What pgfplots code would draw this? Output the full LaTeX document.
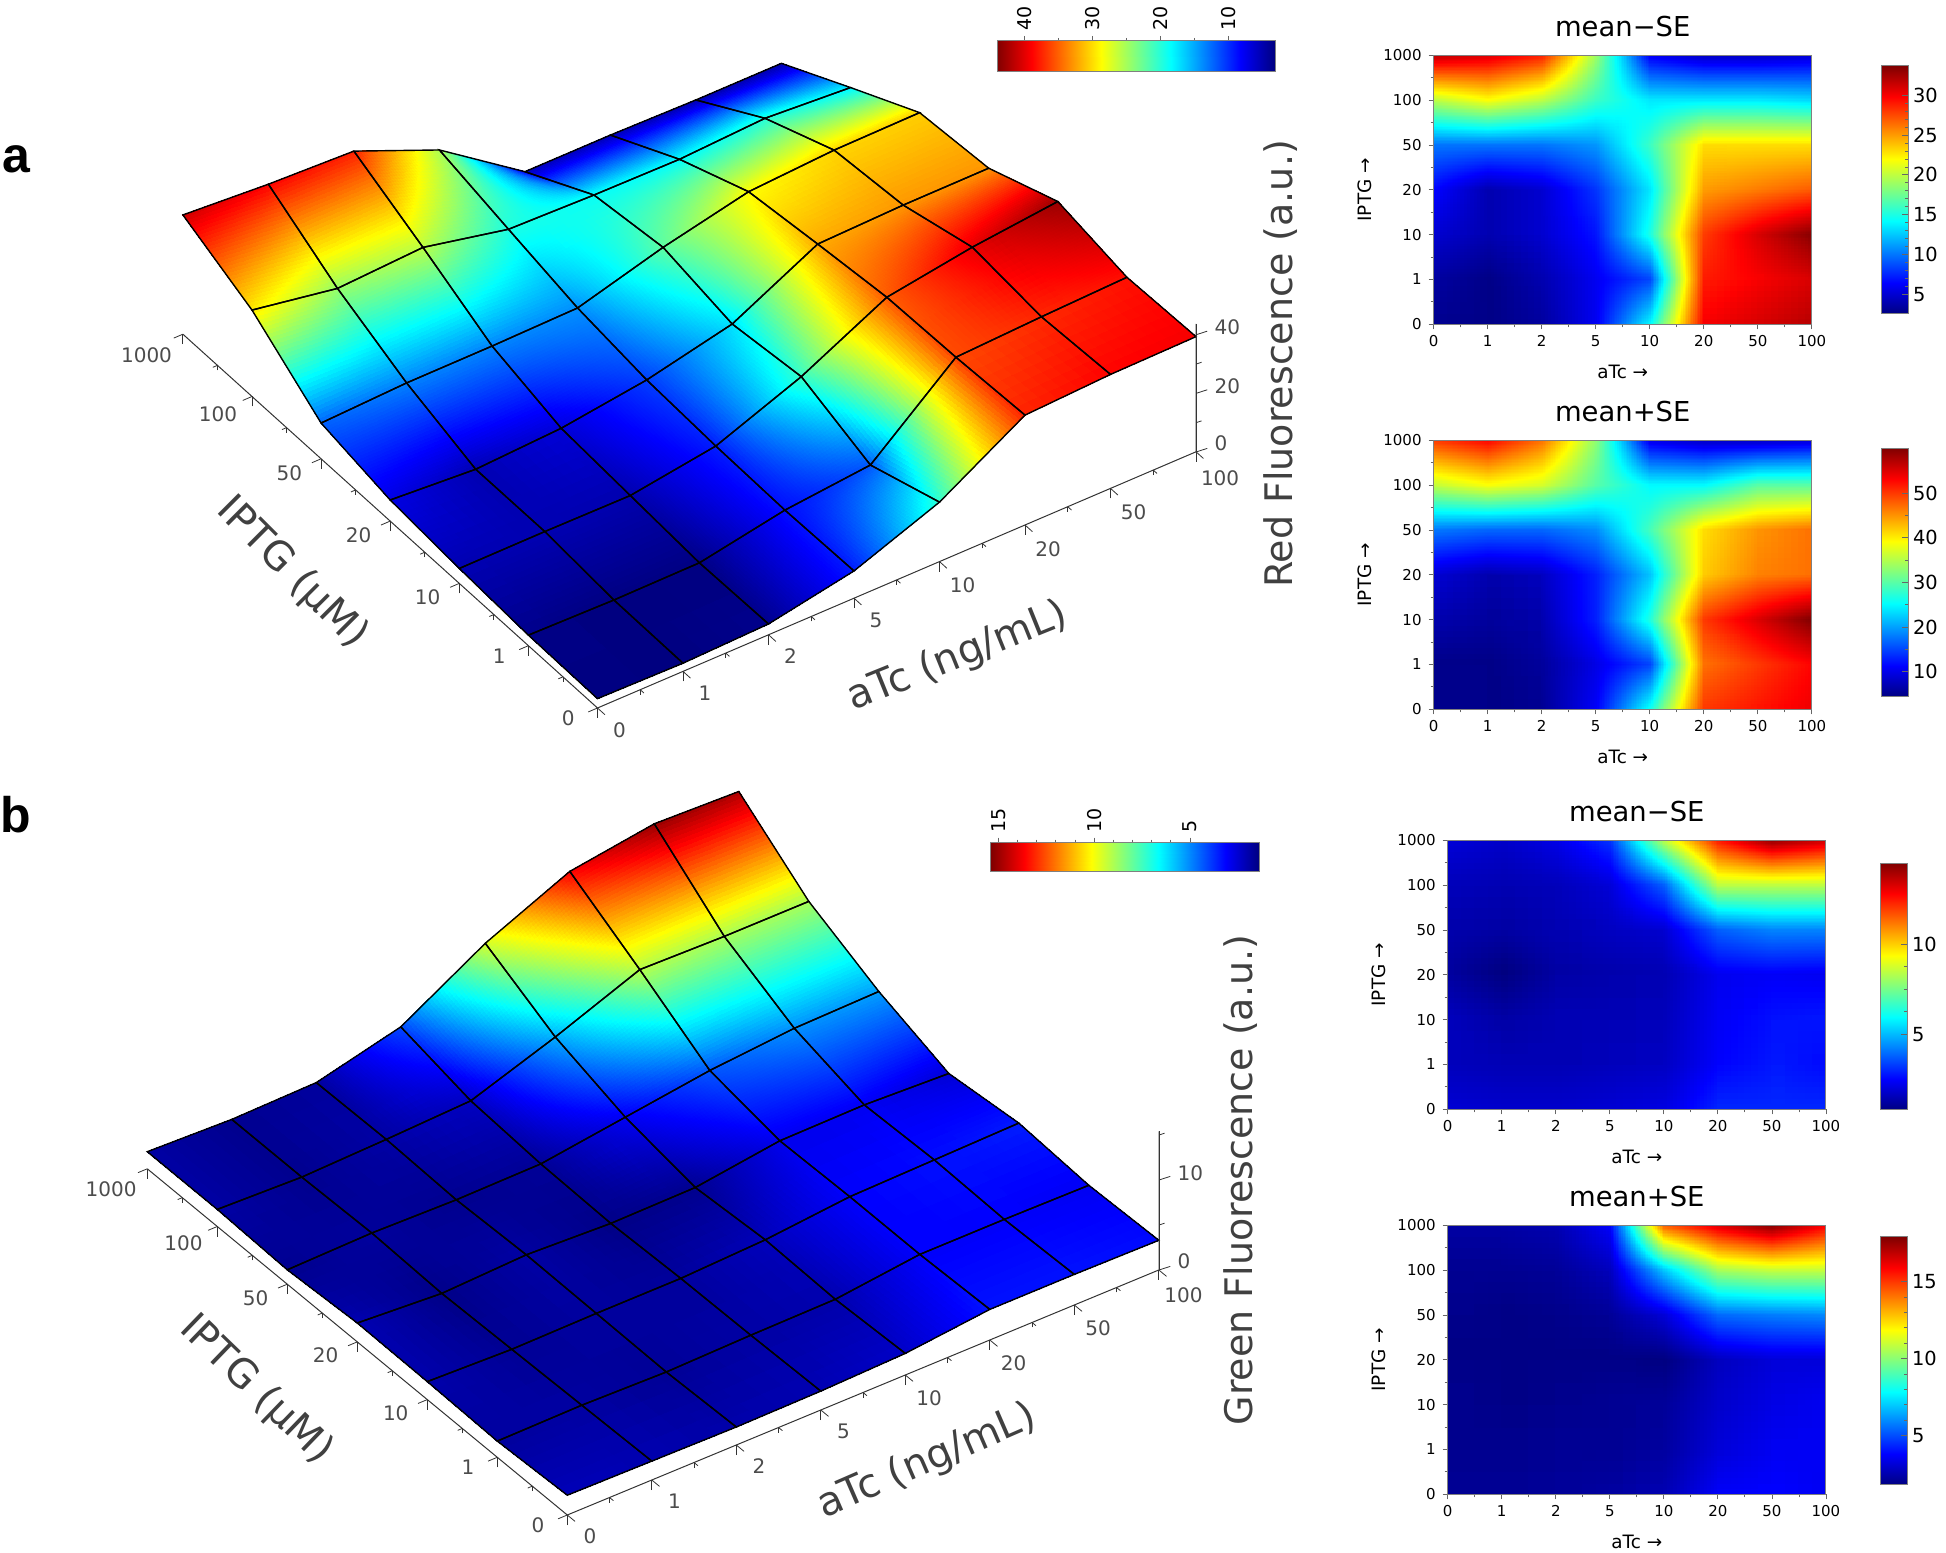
\documentclass[border=0pt]{standalone}
\usepackage{fontspec}
\setmainfont{DejaVu Sans}
\newfontfamily\panelfont{Liberation Sans}
\usepackage{pgfplots}
\usepackage{pgfplotstable}
\pgfplotsset{compat=1.18}
\usepgfplotslibrary{patchplots}

% all grids: i = aTc index (0,1,2,5,10,20,50,100), j = IPTG index (0,1,10,20,50,100,1000)
\pgfplotstableread[row sep=\\]{
i j v\\
0 0 3.2\\ 1 0 2.8\\ 2 0 3.7\\ 3 0 9.3\\ 4 0 20.3\\ 5 0 37.5\\ 6 0 38.9\\ 7 0 39.3\\
0 1 3.6\\ 1 1 3.1\\ 2 1 3.3\\ 3 1 8.8\\ 4 1 11.7\\ 5 1 36.0\\ 6 1 37.3\\ 7 1 38.3\\
0 2 5.1\\ 1 2 5.2\\ 2 2 5.0\\ 3 2 9.4\\ 4 2 20.6\\ 5 2 35.2\\ 6 2 39.8\\ 7 2 42.9\\
0 3 7.2\\ 1 3 5.2\\ 2 3 6.7\\ 3 3 10.7\\ 4 3 17.3\\ 5 3 32.1\\ 6 3 32.9\\ 7 3 33.0\\
0 4 12.2\\ 1 4 13.4\\ 2 4 13.5\\ 3 4 14.0\\ 4 4 22.2\\ 5 4 28.7\\ 6 4 30.4\\ 7 4 30.7\\
0 5 29.5\\ 1 5 24.4\\ 2 5 25.9\\ 3 5 19.6\\ 4 5 18.8\\ 5 5 18.5\\ 6 5 20.0\\ 7 5 18.0\\
0 6 40.7\\ 1 6 38.7\\ 2 6 37.5\\ 3 6 25.4\\ 4 6 5.5\\ 5 6 5.5\\ 6 6 5.0\\ 7 6 5.0\\
}\redsurf

\pgfplotstableread[row sep=\\]{
i j v\\
0 0 2.2\\ 1 0 2.1\\ 2 0 2.0\\ 3 0 2.1\\ 4 0 2.4\\ 5 0 3.4\\ 6 0 3.4\\ 7 0 3.3\\
0 1 1.8\\ 1 1 1.9\\ 2 1 1.7\\ 3 1 1.9\\ 4 1 2.0\\ 5 1 3.1\\ 6 1 3.1\\ 7 1 3.0\\
0 2 2.0\\ 1 2 1.7\\ 2 2 1.8\\ 3 2 1.8\\ 4 2 2.2\\ 5 2 3.1\\ 6 2 3.3\\ 7 2 3.5\\
0 3 2.1\\ 1 3 1.5\\ 2 3 1.9\\ 3 3 1.5\\ 4 3 1.6\\ 5 3 2.9\\ 6 3 3.0\\ 7 3 2.6\\
0 4 1.6\\ 1 4 1.8\\ 2 4 1.6\\ 3 4 1.7\\ 4 4 3.0\\ 5 4 4.3\\ 6 4 5.1\\ 7 4 5.3\\
0 5 1.9\\ 1 5 1.6\\ 2 5 1.9\\ 3 5 2.3\\ 4 5 5.5\\ 5 5 9.1\\ 6 5 8.9\\ 7 5 8.9\\
0 6 1.9\\ 1 6 1.6\\ 2 6 1.8\\ 3 6 4.1\\ 4 6 9.5\\ 5 6 13.6\\ 6 6 15.0\\ 7 6 14.7\\
}\greensurf

\pgfplotstableread[row sep=\\]{
i j v\\
0 0 3\\ 1 0 2.7\\ 2 0 3.5\\ 3 0 6\\ 4 0 14\\ 5 0 30\\ 6 0 31\\ 7 0 32\\
0 1 3.5\\ 1 1 2.7\\ 2 1 4\\ 3 1 6\\ 4 1 8.5\\ 5 1 29\\ 6 1 30\\ 7 1 31\\
0 2 5\\ 1 2 4\\ 2 2 5\\ 3 2 7\\ 4 2 15\\ 5 2 28\\ 6 2 31\\ 7 2 33.5\\
0 3 6.5\\ 1 3 4\\ 2 3 5\\ 3 3 8\\ 4 3 13.5\\ 5 3 25\\ 6 3 26\\ 7 3 27\\
0 4 10\\ 1 4 10\\ 2 4 10\\ 3 4 11\\ 4 4 16\\ 5 4 23\\ 6 4 23\\ 7 4 23\\
0 5 20\\ 1 5 22\\ 2 5 20\\ 3 5 16\\ 4 5 13.5\\ 5 5 13.5\\ 6 5 13.5\\ 7 5 13\\
0 6 32\\ 1 6 31\\ 2 6 29\\ 3 6 19\\ 4 6 6\\ 5 6 4.5\\ 6 6 4.5\\ 7 6 5\\
}\redlow

\pgfplotstableread[row sep=\\]{
i j v\\
0 0 5\\ 1 0 4.8\\ 2 0 5.5\\ 3 0 11\\ 4 0 26\\ 5 0 50\\ 6 0 52\\ 7 0 54\\
0 1 5\\ 1 1 4.8\\ 2 1 6\\ 3 1 10\\ 4 1 15\\ 5 1 47\\ 6 1 50\\ 7 1 53\\
0 2 7\\ 1 2 6\\ 2 2 7\\ 3 2 13\\ 4 2 27\\ 5 2 50\\ 6 2 55\\ 7 2 60\\
0 3 9\\ 1 3 7\\ 2 3 8\\ 3 3 13\\ 4 3 22\\ 5 3 42\\ 6 3 46\\ 7 3 47\\
0 4 18\\ 1 4 17\\ 2 4 17\\ 3 4 19\\ 4 4 29\\ 5 4 41\\ 6 4 45\\ 7 4 47\\
0 5 36\\ 1 5 39\\ 2 5 37\\ 3 5 30\\ 4 5 25\\ 5 5 25\\ 6 5 30\\ 7 5 30\\
0 6 50\\ 1 6 53\\ 2 6 47\\ 3 6 33\\ 4 6 10\\ 5 6 8\\ 6 6 8\\ 7 6 9\\
}\redhigh

\pgfplotstableread[row sep=\\]{
i j v\\
0 0 1.9\\ 1 0 1.8\\ 2 0 1.8\\ 3 0 1.9\\ 4 0 2.1\\ 5 0 3\\ 6 0 3\\ 7 0 3\\
0 1 1.6\\ 1 1 1.5\\ 2 1 1.5\\ 3 1 1.6\\ 4 1 1.7\\ 5 1 2.5\\ 6 1 2.8\\ 7 1 2.6\\
0 2 1.6\\ 1 2 1.3\\ 2 2 1.5\\ 3 2 1.5\\ 4 2 1.6\\ 5 2 2.4\\ 6 2 2.7\\ 7 2 2.8\\
0 3 1.2\\ 1 3 0.8\\ 2 3 1.3\\ 3 3 1.4\\ 4 3 1.5\\ 5 3 2.3\\ 6 3 2.4\\ 7 3 2.3\\
0 4 1.4\\ 1 4 1.3\\ 2 4 1.5\\ 3 4 1.7\\ 4 4 1.9\\ 5 4 3.8\\ 6 4 4.3\\ 7 4 4.3\\
0 5 1.6\\ 1 5 1.5\\ 2 5 1.6\\ 3 5 2\\ 4 5 3.8\\ 5 5 8.5\\ 6 5 8.5\\ 7 5 8.5\\
0 6 2\\ 1 6 1.8\\ 2 6 2.2\\ 3 6 3.2\\ 4 6 8.5\\ 5 6 12.5\\ 6 6 14.3\\ 7 6 13.5\\
}\greenlow

\pgfplotstableread[row sep=\\]{
i j v\\
0 0 2.1\\ 1 0 2.1\\ 2 0 2.2\\ 3 0 2.3\\ 4 0 2.6\\ 5 0 3.7\\ 6 0 3.8\\ 7 0 3.6\\
0 1 2\\ 1 1 2\\ 2 1 2.1\\ 3 1 2.1\\ 4 1 2.3\\ 5 1 3.2\\ 6 1 3.6\\ 7 1 3.6\\
0 2 2\\ 1 2 1.9\\ 2 2 2\\ 3 2 2.1\\ 4 2 2.2\\ 5 2 3\\ 6 2 3.4\\ 7 2 3.6\\
0 3 1.9\\ 1 3 1.9\\ 2 3 1.9\\ 3 3 1.9\\ 4 3 1.8\\ 5 3 2.8\\ 6 3 3.2\\ 7 3 3.2\\
0 4 2\\ 1 4 1.9\\ 2 4 2\\ 3 4 2.2\\ 4 4 3.2\\ 5 4 5.5\\ 6 4 5.8\\ 7 4 6\\
0 5 2.1\\ 1 5 2.1\\ 2 5 2.2\\ 3 5 2.8\\ 4 5 7\\ 5 5 10.5\\ 6 5 11\\ 7 5 11\\
0 6 2.4\\ 1 6 2.4\\ 2 6 2.6\\ 3 6 3.8\\ 4 6 14.5\\ 5 6 16.5\\ 6 6 17.9\\ 7 6 16\\
}\greenhigh

\pgfplotsset{
  /pgf/number format/assume math mode=true,
  colormap={allblack}{color(0cm)=(black); color(1cm)=(black)},
  colormap/jet,
  grid3d/.style={
    anchor=origin, clip=false,
    xmin=0, xmax=7, ymin=0, ymax=6,
    axis lines*=left,
    z axis line style={draw=none}, ztick=\empty,
    xtick={0,...,7}, ytick={0,...,6},
    xticklabels={0,1,2,5,10,20,50,100},
    yticklabels={0,1,10,20,50,100,1000},
    minor tick num=1,
    tick align=outside,
    major tick length=5pt, minor tick length=2.5pt,
    every tick/.style={black!80,line width=0.4pt},
    axis line style={black!80,line width=0.5pt},
    tick label style={font=\fontsize{10}{12}\selectfont,text=black!70},
    xticklabel style={xshift=3.5pt,yshift=1pt},
    yticklabel style={xshift=-4.5pt,yshift=5pt},
  },
  zaxis3d/.style={
    anchor=origin, clip=false,
    xmin=0, xmax=1, ymin=0, ymax=1,
    x={(-6pt,6pt)}, y={(-14pt,-4.5pt)},
    axis x line=none, axis y line=none, axis z line*=right,
    xtick=\empty, ytick=\empty,
    minor z tick num=1,
    tick align=outside,
    major tick length=5pt, minor tick length=3pt,
    every tick/.style={black!80,line width=0.4pt},
    axis line style={black!80,line width=0.5pt},
    tick label style={font=\fontsize{10}{12}\selectfont,text=black!70},
    zticklabel style={xshift=1pt,yshift=4.5pt},
  },
  heat/.style={
    anchor=south west, scale only axis,
    width=189.1pt, height=134.5pt,
    xmin=0, xmax=7, ymin=0, ymax=6,
    xtick={0,...,7}, ytick={0,...,6},
    xticklabels={0,1,2,5,10,20,50,100},
    yticklabels={0,1,10,20,50,100,1000},
    minor tick num=1,
    tick align=outside, tick pos=left,
    major tick length=2.5pt, minor tick length=1.5pt,
    every tick/.style={black!60,line width=0.4pt},
    axis line style={black!50,line width=0.5pt},
    tick label style={font=\fontsize{7.5}{9}\selectfont},
    xticklabel style={yshift=0.5pt},
    axis on top,
    xlabel={aTc →}, ylabel={IPTG →},
    label style={font=\fontsize{9.2}{11}\selectfont},
    xlabel style={at={(axis description cs:0.5,0)},anchor=center,yshift=-24pt},
    ylabel style={at={(axis description cs:0,0.5)},anchor=center,yshift=34.5pt},
    title style={at={(axis description cs:0.5,1)},anchor=south,yshift=-0.5pt,font=\fontsize{13.7}{16}\selectfont},
  },
  cbar/.style={
    anchor=south west, scale only axis,
    width=13.5pt,
    xmin=0, xmax=1, xtick=\empty,
    ytick pos=right, yticklabel pos=right,
    tick align=inside,
    major tick length=3pt, minor tick length=1.5pt,
    every tick/.style={black!60,line width=0.4pt},
    axis line style={black!50,line width=0.5pt},
    tick label style={font=\fontsize{9.7}{11}\selectfont},
    yticklabel style={xshift=-1pt},
    axis on top,
  },
  hbar/.style={
    anchor=south west, scale only axis,
    x dir=reverse,
    ymin=0, ymax=1, ytick=\empty,
    xtick pos=top, xticklabel pos=top,
    tick align=outside,
    major tick length=2.5pt, minor tick length=1.5pt,
    every tick/.style={black!60,line width=0.4pt},
    axis line style={black!50,line width=0.5pt},
    xticklabel style={rotate=90,anchor=west,font=\fontsize{9.5}{11}\selectfont,xshift=-1pt},
    axis on top,
  },
  gridsurf/.style={surf, shader=interp, patch type=bilinear, mesh/rows=7, mesh/cols=8},
  ztickline/.style={black!80, line width=0.4pt, no marks, forget plot},
}

\begin{document}
\begin{tikzpicture}
\path[use as bounding box] (0pt,0pt) rectangle (973pt,776pt);

% panel a, surface
\begin{axis}[grid3d, at={(298.75pt,422pt)},
  x={(42.75pt,18.3pt)}, y={(-34.55pt,31.15pt)}, z={(0pt,1.465pt)},
  zmin=0, zmax=40, point meta min=3.2, point meta max=44]
\addplot3[gridsurf] table[x=i,y=j,z=v]{\redsurf};
\addplot3[mesh, colormap name=allblack, line width=0.7pt, mesh/rows=7, mesh/cols=8] table[x=i,y=j,z=v]{\redsurf};
\end{axis}
\begin{axis}[zaxis3d, at={(598pt,550pt)}, z={(0pt,1.465pt)},
  zmin=0, zmax=43.7, ztick={0,20,40}]
\addplot3[ztickline] coordinates {(0,-0.4,0) (0,0,0) (0,0,10) (0,-0.2,10) (0,0,10) (0,0,20) (0,-0.4,20) (0,0,20) (0,0,30) (0,-0.2,30) (0,0,30) (0,0,40) (0,-0.4,40) (0,0,40) (0,0,43.7)};
\end{axis}
\node[rotate=-45, font=\fontsize{20}{24}\selectfont, text=black!75] at (146pt,489.5pt) {IPTG (µM)};
\node[rotate=22, font=\fontsize{20}{24}\selectfont, text=black!75] at (479pt,447.5pt) {aTc (ng/mL)};
\node[rotate=90, font=\fontsize{19}{23}\selectfont, text=black!75] at (640.5pt,594pt) {Red Fluorescence (a.u.)};
\node[font=\panelfont\bfseries\fontsize{25}{30}\selectfont] at (8pt,696.5pt) {a};

% colour key of panel a
\begin{axis}[hbar, at={(498.5pt,740.15pt)}, width=139pt, height=15.35pt,
  xmin=3.2, xmax=44, xtick={10,20,30,40}, minor x tick num=1,
  point meta min=3.2, point meta max=44]
\addplot[surf, shader=interp, point meta=x, mesh/rows=2, mesh/cols=2] coordinates {(3.2,0) (44,0) (3.2,1) (44,1)};
\end{axis}

% panel a, mean-SE
\begin{axis}[heat, at={(716.8pt,613.85pt)}, title={mean−SE}, point meta min=2.5, point meta max=33.7]
\addplot[gridsurf, point meta=\thisrow{v}] table[x=i,y=j]{\redlow};
\end{axis}
\begin{axis}[cbar, at={(940.5pt,619pt)}, height=124pt, ymin=2.5, ymax=33.7,
  ytick={5,10,15,20,25,30}, minor y tick num=4, point meta min=2.5, point meta max=33.7]
\addplot[surf, shader=interp, point meta=y, mesh/rows=2, mesh/cols=2] coordinates {(0,2.5) (1,2.5) (0,33.7) (1,33.7)};
\end{axis}

% panel a, mean+SE
\begin{axis}[heat, at={(716.8pt,421.35pt)}, title={mean+SE}, point meta min=4.4, point meta max=60]
\addplot[gridsurf, point meta=\thisrow{v}] table[x=i,y=j]{\redhigh};
\end{axis}
\begin{axis}[cbar, at={(940.5pt,427.65pt)}, height=124.2pt, ymin=4.4, ymax=60,
  ytick={10,20,30,40,50}, minor y tick num=1, point meta min=4.4, point meta max=60]
\addplot[surf, shader=interp, point meta=y, mesh/rows=2, mesh/cols=2] coordinates {(0,4.4) (1,4.4) (0,60) (1,60)};
\end{axis}

% panel b, surface
\begin{axis}[grid3d, at={(283.65pt,18.5pt)},
  x={(42.25pt,17.5pt)}, y={(-35pt,28.85pt)}, z={(0pt,4.5pt)},
  zmin=0, zmax=15, point meta min=1.4, point meta max=15.4]
\addplot3[gridsurf] table[x=i,y=j,z=v]{\greensurf};
\addplot3[mesh, colormap name=allblack, line width=0.7pt, mesh/rows=7, mesh/cols=8] table[x=i,y=j,z=v]{\greensurf};
\end{axis}
\begin{axis}[zaxis3d, at={(579.5pt,141pt)}, z={(0pt,4.5pt)},
  zmin=0, zmax=15.4, ztick={0,10}, minor z tick num=1]
\addplot3[ztickline] coordinates {(0,-0.4,0) (0,0,0) (0,0,5) (0,-0.2,5) (0,0,5) (0,0,10) (0,-0.4,10) (0,0,10) (0,0,15) (0,-0.2,15) (0,0,15) (0,0,15.4)};
\end{axis}
\node[rotate=-44, font=\fontsize{20}{24}\selectfont, text=black!75] at (128pt,81pt) {IPTG (µM)};
\node[rotate=23.5, font=\fontsize{20}{24}\selectfont, text=black!75] at (463.5pt,45pt) {aTc (ng/mL)};
\node[rotate=90, font=\fontsize{19}{23}\selectfont, text=black!75] at (620.5pt,186pt) {Green Fluorescence (a.u.)};
\node[font=\panelfont\bfseries\fontsize{25}{30}\selectfont] at (8pt,368.5pt) {b};

% colour key of panel b
\begin{axis}[hbar, at={(495.3pt,340.15pt)}, width=134.2pt, height=14.5pt,
  xmin=1.4, xmax=15.4, xtick={5,10,15}, minor x tick num=4,
  point meta min=1.4, point meta max=15.4]
\addplot[surf, shader=interp, point meta=x, mesh/rows=2, mesh/cols=2] coordinates {(1.4,0) (15.4,0) (1.4,1) (15.4,1)};
\end{axis}

% panel b, mean-SE
\begin{axis}[heat, at={(723.85pt,221.35pt)}, title={mean−SE}, point meta min=0.8, point meta max=14.5]
\addplot[gridsurf, point meta=\thisrow{v}] table[x=i,y=j]{\greenlow};
\end{axis}
\begin{axis}[cbar, at={(940pt,221pt)}, height=123.35pt, ymin=0.8, ymax=14.5,
  ytick={5,10}, minor y tick num=3, point meta min=0.8, point meta max=14.5]
\addplot[surf, shader=interp, point meta=y, mesh/rows=2, mesh/cols=2] coordinates {(0,0.8) (1,0.8) (0,14.5) (1,14.5)};
\end{axis}

% panel b, mean+SE
\begin{axis}[heat, at={(723.85pt,28.85pt)}, title={mean+SE}, point meta min=1.8, point meta max=17.9]
\addplot[gridsurf, point meta=\thisrow{v}] table[x=i,y=j]{\greenhigh};
\end{axis}
\begin{axis}[cbar, at={(940pt,33.65pt)}, height=123.85pt, ymin=1.8, ymax=17.9,
  ytick={5,10,15}, minor y tick num=4, point meta min=1.8, point meta max=17.9]
\addplot[surf, shader=interp, point meta=y, mesh/rows=2, mesh/cols=2] coordinates {(0,1.8) (1,1.8) (0,17.9) (1,17.9)};
\end{axis}
\end{tikzpicture}
\end{document}
